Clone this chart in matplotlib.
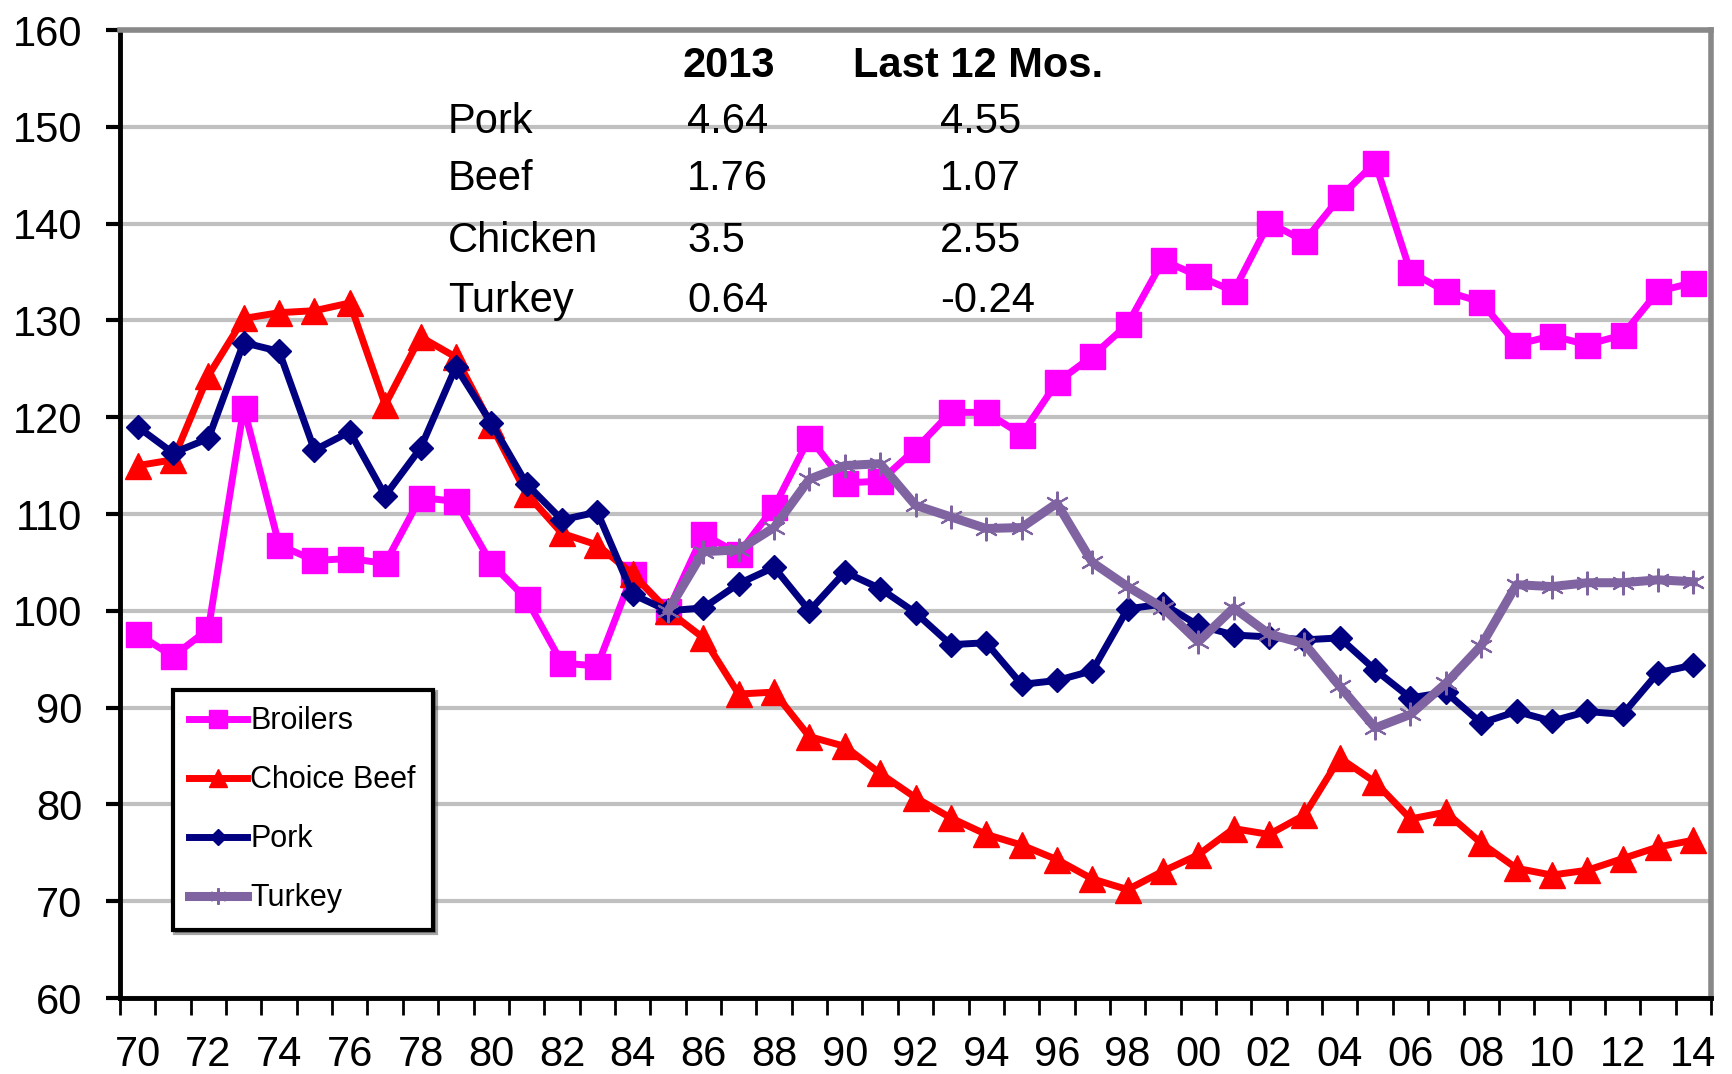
import numpy as np
import matplotlib
matplotlib.use("Agg")
import matplotlib.pyplot as plt

plt.rcParams['font.family'] = ['Liberation Sans Narrow', 'Liberation Sans', 'DejaVu Sans']

# data (index, 1985 = 100)
years = list(range(1970, 2015))
broilers = [97.6, 95.3, 98.1, 121.0, 106.8, 105.2, 105.4, 104.9, 111.7, 111.3,
            104.9, 101.2, 94.6, 94.3, 103.8, 100.0, 107.9, 105.9, 110.7, 117.9,
            113.2, 113.4, 116.7, 120.5, 120.5, 118.2, 123.6, 126.3, 129.6, 136.2,
            134.6, 133.0, 140.1, 138.2, 142.7, 146.3, 135.0, 133.0, 131.9, 127.5,
            128.4, 127.5, 128.5, 133.0, 133.9]
beef = [115.0, 115.6, 124.3, 130.2, 130.8, 131.0, 131.8, 121.3, 128.3, 126.2,
        119.2, 112.1, 108.0, 106.8, 103.8, 100.0, 97.2, 91.4, 91.6, 87.0,
        86.0, 83.2, 80.7, 78.6, 76.9, 75.8, 74.3, 72.3, 71.2, 73.1,
        74.8, 77.5, 76.9, 78.9, 84.8, 82.3, 78.5, 79.2, 76.0, 73.4,
        72.7, 73.2, 74.4, 75.6, 76.3]
pork = [119.0, 116.3, 117.8, 127.7, 126.8, 116.6, 118.5, 111.9, 116.8, 125.2,
        119.4, 113.1, 109.4, 110.2, 101.7, 100.0, 100.3, 102.8, 104.5, 100.0,
        104.0, 102.3, 99.8, 96.5, 96.7, 92.4, 92.8, 93.8, 100.2, 100.7,
        98.5, 97.5, 97.3, 97.0, 97.2, 93.9, 91.0, 91.6, 88.4, 89.6,
        88.6, 89.6, 89.3, 93.6, 94.4]
turkey = [np.nan] * 15 + [
    100.0, 106.1, 106.3, 108.6, 113.6, 115.0, 115.2, 110.9, 109.7, 108.5,
    108.6, 111.1, 105.0, 102.5, 100.3, 96.8, 100.3, 97.6, 96.6, 92.2,
    87.9, 89.3, 92.5, 96.4, 102.7, 102.5, 102.9, 102.9, 103.2, 103.0]

table_cols = ['2013', 'Last 12 Mos.']
table_rows = ['Pork', 'Beef', 'Chicken', 'Turkey']
table_2013 = ['4.64', '1.76', '3.5', '0.64']
table_12m = ['4.55', '1.07', '2.55', '-0.24']

W, H = 1733, 1074
fig = plt.figure(figsize=(W / 100, H / 100), dpi=100)
ax = fig.add_axes([120 / W, 1 - 998 / H, (1711 - 120) / W, (998 - 30) / H])

ax.plot(years, broilers, color='#FF00FF', lw=5, marker='s', ms=18,
        label='Broilers', zorder=3)
ax.plot(years, beef, color='#FF0000', lw=5, marker='^', ms=19,
        label='Choice Beef', zorder=3)
ax.plot(years, pork, color='#000080', lw=5, marker='D', ms=12,
        label='Pork', zorder=4)
ax.plot(years, turkey, color='#8064A2', lw=6.5, marker=(6, 2, 0), ms=17,
        mew=1.5, label='Turkey', zorder=5)

ax.set_xlim(1969.5, 2014.5)
ax.set_ylim(60, 160)
ax.set_yticks(range(60, 161, 10))
ax.set_xticks(range(1970, 2015, 2))
ax.set_xticklabels(['%02d' % (y % 100) for y in range(1970, 2015, 2)])
ax.set_xticks(np.arange(1969.5, 2015, 1), minor=True)
ax.tick_params(axis='x', which='major', length=0, pad=27, labelsize=30)
ax.tick_params(axis='x', which='minor', length=12, width=2, color='black')
ax.tick_params(axis='y', length=10, width=3, pad=17, labelsize=30)

ax.grid(axis='y', color='#C0C0C0', lw=3, zorder=0)
ax.set_axisbelow(True)
for s in ['left', 'bottom']:
    ax.spines[s].set_color('black')
    ax.spines[s].set_linewidth(3.5)
for s in ['top', 'right']:
    ax.spines[s].set_color('#888888')
    ax.spines[s].set_linewidth(4)

leg = ax.legend(loc='lower left', bbox_to_anchor=(0.033, 0.07), fontsize=22,
                frameon=True, fancybox=False, shadow=True, markerscale=0.7,
                handlelength=1.9, handletextpad=0.1, labelspacing=0.95,
                borderpad=0.55, borderaxespad=0)
leg.get_frame().set_edgecolor('black')
leg.get_frame().set_linewidth(3)

# inset table
def px(x, y):
    return x / W, 1 - y / H

fig.text(*px(729, 66), table_cols[0], fontsize=30, fontweight='bold',
         ha='center', va='center')
fig.text(*px(978, 66), table_cols[1], fontsize=30, fontweight='bold',
         ha='center', va='center')
row_y = [122, 179, 241, 301]
for i in range(len(table_rows)):
    fig.text(*px(448, row_y[i]), table_rows[i], fontsize=30, ha='left', va='center')
    fig.text(*px(687, row_y[i]), table_2013[i], fontsize=30, ha='left', va='center')
    fig.text(*px(940, row_y[i]), table_12m[i], fontsize=30, ha='left', va='center')

fig.savefig('out.png', dpi=100)
